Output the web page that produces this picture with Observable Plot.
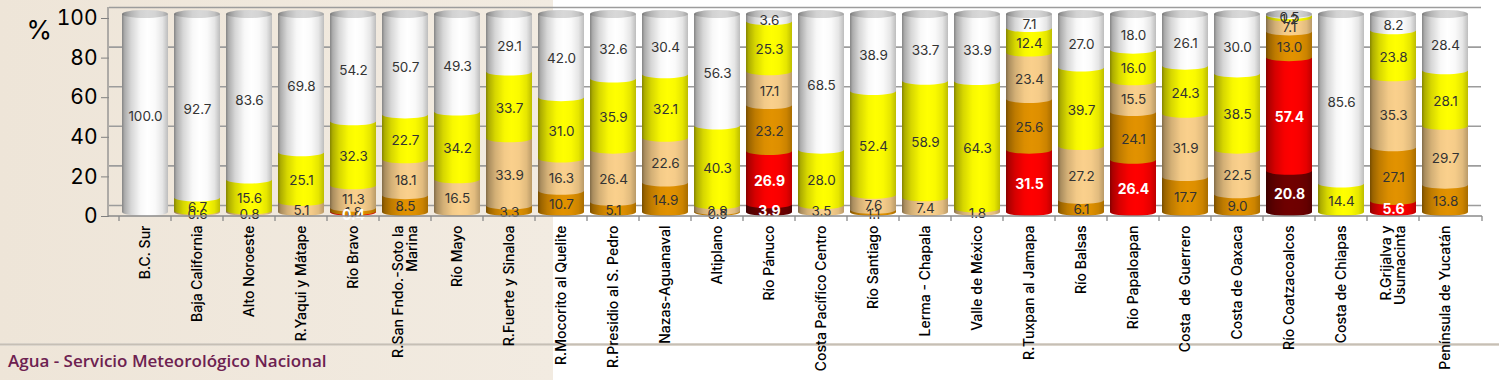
<!DOCTYPE html>
<html>
<head>
<meta charset="utf-8">
<script src="https://cdn.jsdelivr.net/npm/d3@7"></script>
<script src="https://cdn.jsdelivr.net/npm/@observablehq/plot@0.6"></script>
<style>
html,body{margin:0;padding:0;}
body{width:1499px;height:380px;overflow:hidden;position:relative;
  background:linear-gradient(to right,#eee5d8 0px,#f2ebe1 553px,#ffffff 553px);
  font-family:Inter,sans-serif;}
#rule{position:absolute;left:0;top:343px;width:1499px;height:3px;
  background:linear-gradient(#e0dad2,#c6bfb5,#e6e0d8);}
#chart{position:absolute;left:0;top:0;}
#footer{position:absolute;left:8px;top:349px;font-family:"Open Sans",sans-serif;font-weight:600;
  font-size:17px;color:#6d2150;white-space:nowrap;}
</style>
</head>
<body>
<div id="rule"></div>
<div id="chart"></div>
<div id="footer">Agua - Servicio Meteorológico Nacional</div>
<script>
// ---- data ----
const regions = ["B.C. Sur","Baja California","Alto Noroeste","R.Yaqui y Mátape","Río Bravo",
  "R.San Fndo.-Soto la\nMarina","Río Mayo","R.Fuerte y Sinaloa","R.Mocorito al Quelite",
  "R.Presidio al S. Pedro","Nazas-Aguanaval","Altiplano","Río Pánuco","Costa Pacífico Centro",
  "Río Santiago","Lerma - Chapala","Valle de México","R.Tuxpan al Jamapa","Río Balsas",
  "Río Papaloapan","Costa  de Guerrero","Costa de Oaxaca","Río Coatzacoalcos","Costa de Chiapas",
  "R.Grijalva y\nUsumacinta","Península de Yucatán"];
// stacked bottom -> top
const d4   = [0,0,0,0,0,0,0,0,0,0,0,0,3.9,0,0,0,0,0,0,0,0,0,20.8,0,0,0];
const d3v  = [0,0,0,0,0.4,0,0,0,0,0,0,0,26.9,0,0,0,0,31.5,0,26.4,0,0,57.4,0,5.6,0];
const d2   = [0,0,0,0,1.8,8.5,0,3.3,10.7,5.1,14.9,0.5,23.2,0,1.1,0,0,25.6,6.1,24.1,17.7,9.0,13.0,0,27.1,13.8];
const d1   = [0,0.6,0.8,5.1,11.3,18.1,16.5,33.9,16.3,26.4,22.6,2.9,17.1,3.5,7.6,7.4,1.8,23.4,27.2,15.5,31.9,22.5,7.1,0,35.3,29.7];
const d0   = [0,6.7,15.6,25.1,32.3,22.7,34.2,33.7,31.0,35.9,32.1,40.3,25.3,28.0,52.4,58.9,64.3,12.4,39.7,16.0,24.3,38.5,1.2,14.4,23.8,28.1];
const none = [100.0,92.7,83.6,69.8,54.2,50.7,49.3,29.1,42.0,32.6,30.4,56.3,3.6,68.5,38.9,33.7,33.9,7.1,27.0,18.0,26.1,30.0,0.5,85.6,8.2,28.4];
const keys = ["D4","D3","D2","D1","D0","N"];
const colors = ["#700000","#ff0000","#e29200","#fad08c","#ffff00","#ffffff"];
const yTicks = [0,20,40,60,80,100];

const seriesVals = [d4,d3v,d2,d1,d0,none];
const rows = [];
regions.forEach((r,i)=>{
  let acc = 0;
  keys.forEach((k,j)=>{
    const v = seriesVals[j][i];
    if (v > 0) { rows.push({region:r, key:k, v, y1:acc, y2:acc+v, light:j<2}); acc += v; }
  });
});
const tops = regions.map((r,i)=>({region:r, top: seriesVals.reduce((s,a)=>s+a[i],0)}));

const marks = [
  Plot.gridY(yTicks, {dy:-7, stroke:"#9c9c9c", strokeWidth:1.6, strokeOpacity:1})
];
keys.forEach(k=>{
  const sub = rows.filter(d=>d.key===k);
  marks.push(Plot.barY(sub, {x:"region", y1:"y1", y2:"y2", fill:"key"}));
  marks.push(Plot.barY(sub, {x:"region", y1:"y1", y2:"y1", fill:"key", insetTop:-4, insetBottom:-4, rx:30, ry:4}));
});
marks.push(Plot.barY(tops, {x:"region", y1:"top", y2:"top", fill:"#d8d8d8", insetTop:-4, insetBottom:-4, rx:30, ry:4}));
marks.push(Plot.barY(tops, {x:"region", y1:d=>0, y2:"top", fill:"url(#cyl)", insetTop:-4, insetBottom:-4, rx:30, ry:4}));
marks.push(Plot.text(rows.filter(d=>!d.light), {x:"region", y:d=>(d.y1+d.y2)/2, text:d=>d.v.toFixed(1), dy:3, fill:"#333333", fontSize:13.5}));
marks.push(Plot.text(rows.filter(d=>d.light), {x:"region", y:d=>(d.y1+d.y2)/2, text:d=>d.v.toFixed(1), dy:3, fill:"white", fontSize:14, fontWeight:"bold"}));
marks.push(Plot.axisY({ticks:yTicks, tickSize:8, tickPadding:4, fontSize:21, dy:4, label:null, stroke:"#808080", color:"black"}));
marks.push(Plot.axisX({tickSize:0, tickRotate:-90, tickPadding:13, fontSize:14, fontWeight:500, label:null, color:"black"}));
marks.push(Plot.text(["%"], {frameAnchor:"top-left", dx:-83, dy:6, textAnchor:"start", fontSize:26, fill:"black"}));

const chart = Plot.plot({
  width:1499, height:380,
  marginTop:14, marginBottom:168, marginLeft:109, marginRight:18,
  x:{domain:regions, paddingInner:0.11, paddingOuter:0.055},
  y:{domain:[0,100]},
  color:{domain:keys, range:colors},
  style:{background:"transparent", fontFamily:"Inter, sans-serif", color:"black"},
  marks
});

const NS = "http://www.w3.org/2000/svg";
function el(name, attrs, parent){ const e=document.createElementNS(NS,name); for(const k in attrs) e.setAttribute(k, attrs[k]); if(parent) parent.appendChild(e); return e; }

// cylinder shading gradient
const defs = el("defs", {});
chart.insertBefore(defs, chart.firstChild);
const grad = el("linearGradient", {id:"cyl", x1:0, x2:1, y1:0, y2:0}, defs);
[[0,0.48],[0.06,0.32],[0.2,0.16],[0.4,0.03],[0.55,0],[0.72,0.02],[0.88,0.1],[1,0.26]].forEach(([o,a])=>{
  el("stop", {offset:o, "stop-color":"#000", "stop-opacity":a}, grad);
});

// axis lines (left wall edge and floor line)
const ys = chart.scale("y"), xs = chart.scale("x");
const y0 = ys.apply(0), y100 = ys.apply(100);
const left = xs.range[0] - 1, right = xs.range[1] + 1;
const deco = el("g", {stroke:"#8a8a8a", "stroke-width":1.3}, chart);
el("line", {x1:left, x2:left, y1:y100-7, y2:y0+4}, deco);
el("line", {x1:left, x2:right, y1:y0+4, y2:y0+4}, deco);
const step = xs.step != null ? xs.step : (xs.range[1]-xs.range[0])/regions.length;
const bw = xs.bandwidth != null ? xs.bandwidth : step*0.89;
regions.forEach(r=>{
  const xb = xs.apply(r) - (step - bw)/2;
  el("line", {x1:xb, x2:xb, y1:y0+4, y2:y0+9}, deco);
});
el("line", {x1:right, x2:right, y1:y0+4, y2:y0+9}, deco);
chart.querySelectorAll("text").forEach(t=>t.style.whiteSpace="pre");

document.getElementById("chart").appendChild(chart);
</script>
</body>
</html>
